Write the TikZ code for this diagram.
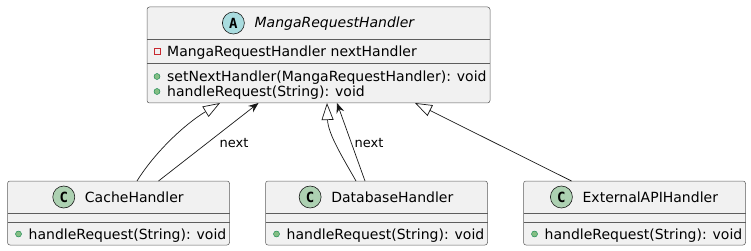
\documentclass[tikz,border=0pt]{standalone}
\usepackage{fontspec}
\setmainfont{DejaVu Sans}
\setmonofont{DejaVu Sans Mono}
\usetikzlibrary{arrows.meta, positioning}

\definecolor{boxfill}{HTML}{F1F1F1}
\definecolor{boxline}{HTML}{181818}
\definecolor{abstractfill}{HTML}{A9DCDF}
\definecolor{classfill}{HTML}{ADD1B2}
\definecolor{privred}{HTML}{C82930}
\definecolor{pubfill}{HTML}{84BE84}
\definecolor{publine}{HTML}{038048}

\tikzset{
  classbox/.style={rectangle, draw=boxline!70, fill=boxfill, line width=0.5pt,
    rounded corners=2.5pt, inner sep=0pt, outer sep=0pt},
  sepline/.style={draw=boxline!70, line width=0.5pt},
  title/.style={inner sep=0pt, text height=10pt, text depth=0pt,
    font=\fontsize{14}{16}\selectfont},
  member/.style={title, anchor=west},
  badge/.style={circle, draw=boxline, line width=0.6pt, minimum size=22pt,
    inner sep=0pt, font=\fontsize{14}{16}\selectfont\ttfamily\bfseries},
  privicon/.style={rectangle, draw=privred, line width=0.6pt, minimum size=6pt, inner sep=0pt},
  pubicon/.style={circle, draw=publine, fill=pubfill, line width=0.4pt, minimum size=6pt, inner sep=0pt},
  link/.style={draw=boxline, line width=0.7pt},
  extends/.style={link, -{Triangle[open, length=17pt, width=12pt]}},
  assoc/.style={link, -{Stealth[length=10pt, width=8pt, inset=3.5pt]}},
  linklabel/.style={inner sep=0pt, font=\fontsize{13}{15}\selectfont}
}

\begin{document}
\begin{tikzpicture}[x=1pt, y=-1pt]
\useasboundingbox (0,0) rectangle (751,251);

% abstract base class
\node[classbox, minimum width=343pt, minimum height=96pt] (base) at (318.5,55) {};
\draw[sepline] ([yshift=-32pt]base.north west) -- ([yshift=-32pt]base.north east);
\draw[sepline] ([yshift=-56pt]base.north west) -- ([yshift=-56pt]base.north east);
\node[title] (basetitle) at (334.4,23) {\itshape MangaRequestHandler};
\node[badge, fill=abstractfill, left=9.7pt of basetitle] (basebadge) {A};
\node[member] (basefield) at (167,51.5) {MangaRequestHandler nextHandler};
\node[privicon] at (157,51.5) {};
\node[member] (basem1) at (167,76.5) {setNextHandler(MangaRequestHandler): void};
\node[pubicon] at (157,76.5) {};
\node[member] (basem2) at (167,91.5) {handleRequest(String): void};
\node[pubicon] at (157,91.5) {};

% concrete handlers
\node[classbox, minimum width=222pt, minimum height=64pt] (cache) at (118.5,213) {};
\node[classbox, minimum width=222pt, minimum height=64pt] (db)    at (376.5,213) {};
\node[classbox, minimum width=222pt, minimum height=64pt] (ext)   at (634.5,213) {};
\foreach \cls in {cache, db, ext} {
  \draw[sepline] ([yshift=-32pt]\cls.north west) -- ([yshift=-32pt]\cls.north east);
  \draw[sepline] ([yshift=-41pt]\cls.north west) -- ([yshift=-41pt]\cls.north east);
  \node[member] at ([xshift=21pt, yshift=-53pt]\cls.north west) {handleRequest(String): void};
  \node[pubicon] at ([xshift=11pt, yshift=-53pt]\cls.north west) {};
}
\node[title] (cachetitle) at (134.3,197) {CacheHandler};
\node[badge, fill=classfill, left=9.7pt of cachetitle] (cachebadge) {C};
\node[title] (dbtitle) at (392.3,197) {DatabaseHandler};
\node[badge, fill=classfill, left=9.7pt of dbtitle] (dbbadge) {C};
\node[title] (exttitle) at (650.3,197) {ExternalAPIHandler};
\node[badge, fill=classfill, left=9.7pt of exttitle] (extbadge) {C};

% inheritance and next links
\draw[extends] ([xshift=18.5pt]cache.north) .. controls +(18,-29) and +(-35,21) .. ([xshift=-98.5pt]base.south);
\draw[assoc] ([xshift=40pt]cache.north) -- ([xshift=-60pt]base.south);
\node[linklabel] (nextcache) at (234,143) {next};
\draw[extends] ([xshift=-20.5pt]db.north) .. controls +(-13,-23) and +(1,31) .. ([xshift=8.5pt]base.south);
\draw[assoc] ([xshift=-11.5pt]db.north) -- ([xshift=18.5pt]base.south);
\node[linklabel] (nextdb) at (369,143) {next};
\draw[extends] ([xshift=-63pt]ext.north) -- ([xshift=96.5pt]base.south);
\end{tikzpicture}
\end{document}
